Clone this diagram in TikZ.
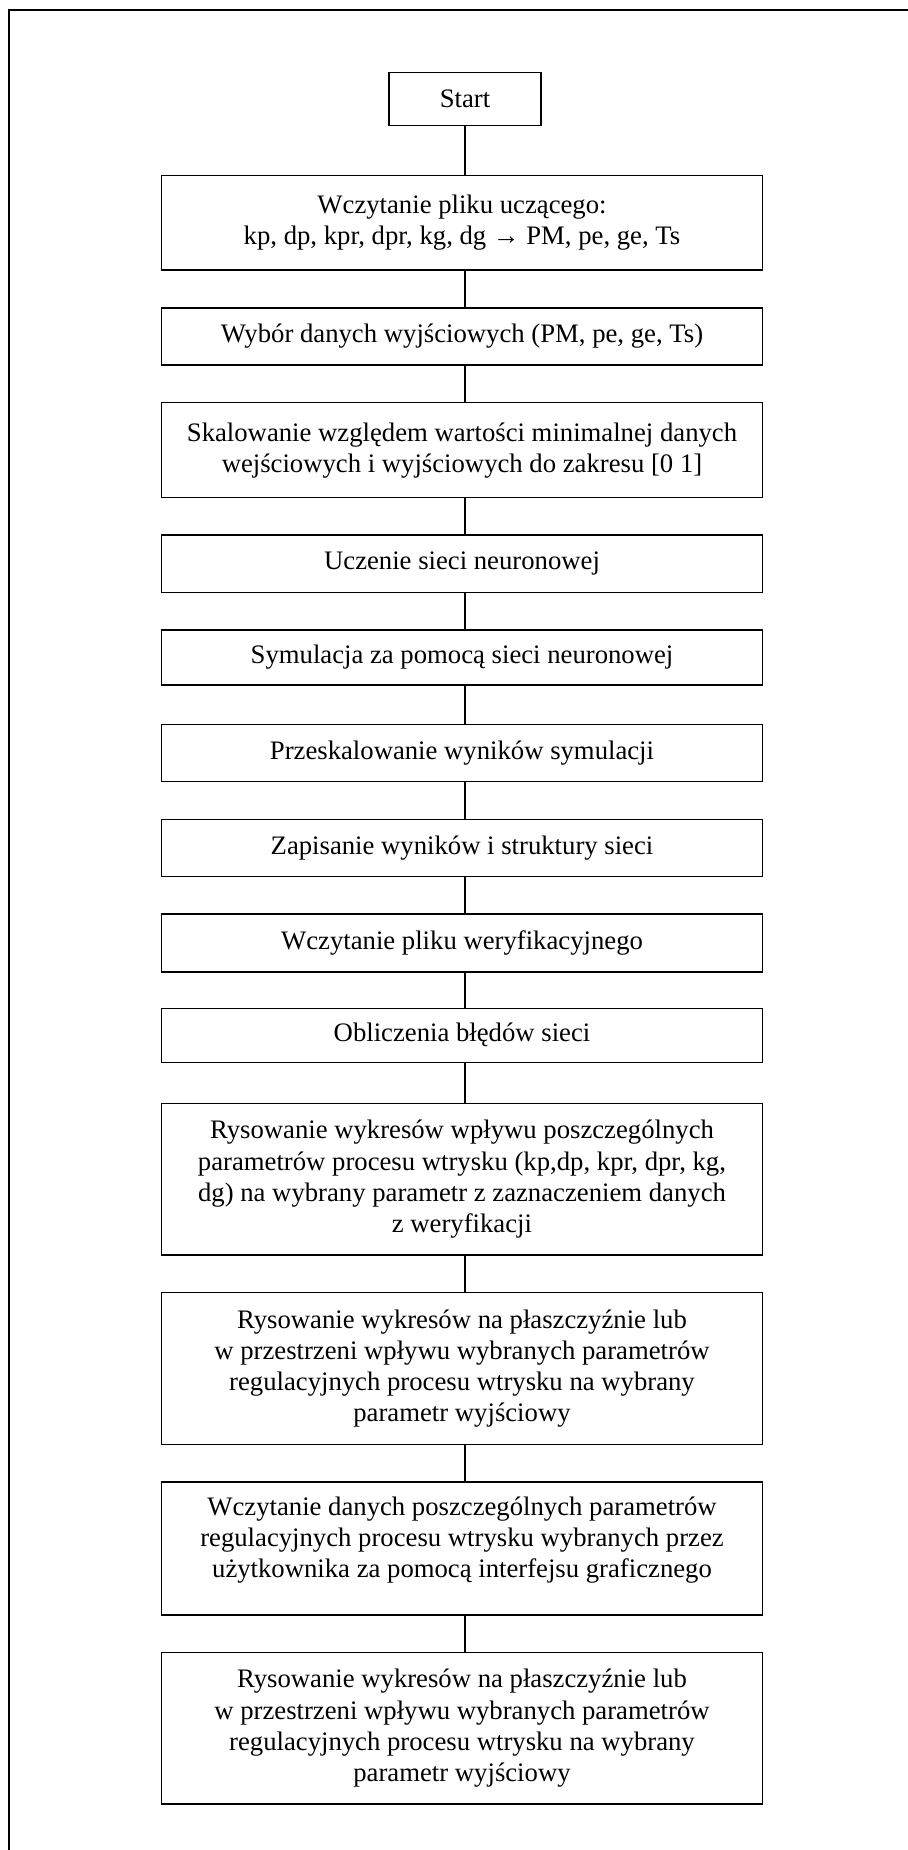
\documentclass[tikz,border=0pt]{standalone}
\usepackage{fontspec}
\setmainfont{Liberation Serif}

\tikzset{
  krok/.style = {draw, line width=0.75pt, minimum width=300.3pt, inner sep=0pt,
    align=center, font=\fontsize{13.35pt}{15.6pt}\selectfont},
  laczenie/.style = {line width=0.65pt}
}

\begin{document}
\begin{tikzpicture}[x=0.5pt, y=-0.5pt]
    \useasboundingbox (0,0) rectangle (908,1850);

    % Frame
    \draw[line width=1pt] (9,1850) -- (9,10) -- (908,10);

    % Boxes
    \node[krok, minimum width=76pt, minimum height=26.7pt] (start) at (465,99) {Start};
    \node[krok, minimum height=47.15pt] (wczyt) at (462,222.9)
      {Wczytanie pliku uczącego:\\kp, dp, kpr, dpr, kg, dg → PM, pe, ge, Ts};
    \node[krok, minimum height=28.5pt] (wybor) at (462,336.5)
      {Wybór danych wyjściowych (PM, pe, ge, Ts)};
    \node[krok, minimum height=47.5pt] (skal) at (462,450.2)
      {Skalowanie względem wartości minimalnej danych\\wejściowych i wyjściowych do zakresu [0 1]};
    \node[krok, minimum height=28.65pt] (ucz) at (462,563.7) {Uczenie sieci neuronowej};
    \node[krok, minimum height=27.5pt] (sym) at (462,657.5) {Symulacja za pomocą sieci neuronowej};
    \node[krok, minimum height=28.7pt] (przeskal) at (462,753) {Przeskalowanie wyników symulacji};
    \node[krok, minimum height=28.7pt] (zapis) at (462,848) {Zapisanie wyników i struktury sieci};
    \node[krok, minimum height=28.85pt] (weryf) at (462,942.9) {Wczytanie pliku weryfikacyjnego};
    \node[krok, minimum height=27pt] (bledy) at (462,1035.3) {Obliczenia błędów sieci};
    \node[krok, minimum height=75.85pt] (rys1) at (462,1179.2)
      {Rysowanie wykresów wpływu poszczególnych\\parametrów procesu wtrysku (kp,dp, kpr, dpr, kg,\\dg) na wybrany parametr z zaznaczeniem danych\\z weryfikacji};
    \node[krok, minimum height=75.8pt] (rys2) at (462,1368.5)
      {Rysowanie wykresów na płaszczyźnie lub\\w przestrzeni wpływu wybranych parametrów\\regulacyjnych procesu wtrysku na wybrany\\parametr wyjściowy};
    % text sits a bit high in this one
    \node[krok, minimum height=66.65pt] (dane) at (462,1548.4)
      {Wczytanie danych poszczególnych parametrów\\regulacyjnych procesu wtrysku wybranych przez\\użytkownika za pomocą interfejsu graficznego\rule[-11pt]{0pt}{11pt}};
    \node[krok, minimum height=75.85pt] (rys3) at (462,1728.2)
      {Rysowanie wykresów na płaszczyźnie lub\\w przestrzeni wpływu wybranych parametrów\\regulacyjnych procesu wtrysku na wybrany\\parametr wyjściowy};

    % Edges
    \draw[laczenie] (start) -- (wczyt.north -| start);
    \draw[laczenie] (wczyt.south -| start) -- (wybor.north -| start);
    \draw[laczenie] (wybor.south -| start) -- (skal.north -| start);
    \draw[laczenie] (skal.south -| start) -- (ucz.north -| start);
    \draw[laczenie] (ucz.south -| start) -- (sym.north -| start);
    \draw[laczenie] (sym.south -| start) -- (przeskal.north -| start);
    \draw[laczenie] (przeskal.south -| start) -- (zapis.north -| start);
    \draw[laczenie] (zapis.south -| start) -- (weryf.north -| start);
    \draw[laczenie] (weryf.south -| start) -- (bledy.north -| start);
    \draw[laczenie] (bledy.south -| start) -- (rys1.north -| start);
    \draw[laczenie] (rys1.south -| start) -- (rys2.north -| start);
    \draw[laczenie] (rys2.south -| start) -- (dane.north -| start);
    \draw[laczenie] (dane.south -| start) -- (rys3.north -| start);
\end{tikzpicture}
\end{document}
